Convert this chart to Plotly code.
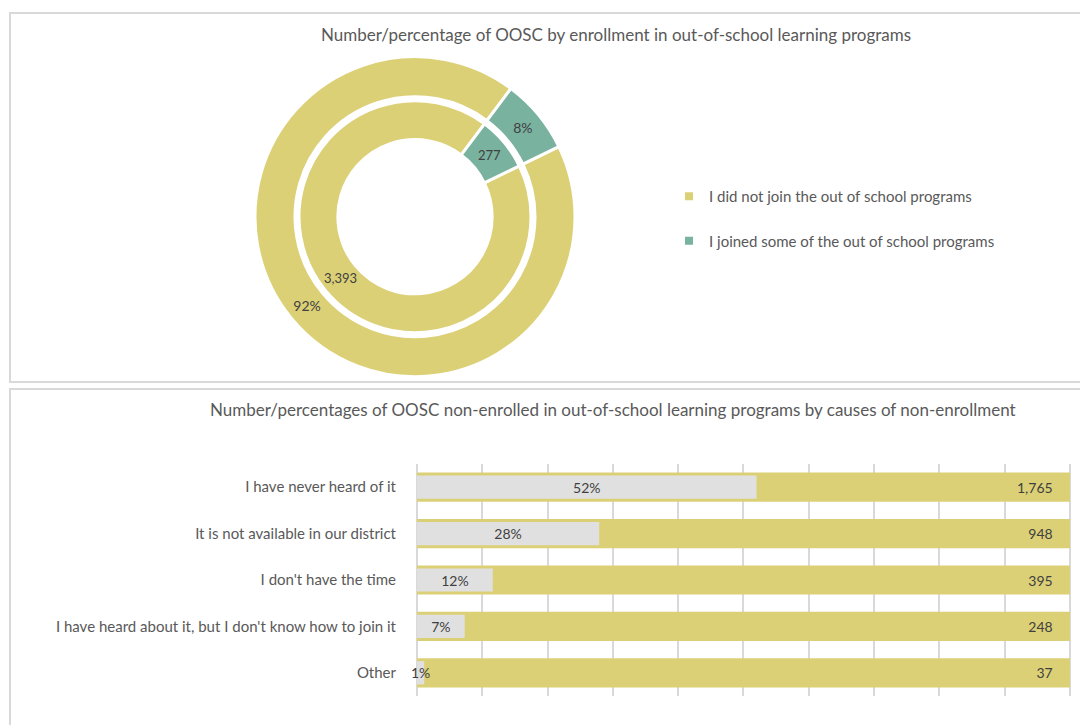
import plotly.graph_objects as go

W, H = 1088, 725
OFF = 8  # page body offset

# ---------------- data ----------------
pie_labels = ["I did not join the out of school programs", "I joined some of the out of school programs"]
pie_counts = [3393, 277]
pie_colors = ["#DCD077", "#7AB2A0"]

causes = ["I have never heard of it",
          "It is not available in our district",
          "I don't have the time",
          "I have heard about it, but I don't know how to join it",
          "Other"]
cause_counts = [1765, 948, 395, 248, 37]
cause_share = [0.520, 0.279, 0.116, 0.073, 0.011]
full_bar = [1, 1, 1, 1, 1]

title_top = "Number/percentage of OOSC by enrollment in out-of-school learning programs"
title_bottom = "Number/percentages of OOSC non-enrolled in out-of-school learning programs by causes of non-enrollment"

FONT = "Lato"
TXT = "#404040"
LBL = "#595959"
GRID = "#D9D9D9"


def px_x(v):
    return (v - OFF) / W


def px_y(v):
    return 1 - (v - OFF) / H


fig = go.Figure()

# outer ring (percent)
fig.add_trace(go.Pie(
    labels=pie_labels, values=pie_counts, sort=False, direction="clockwise", rotation=64,
    hole=0.75, domain=dict(x=[px_x(255), px_x(575)], y=[px_y(376.7), px_y(56.7)]),
    marker=dict(colors=pie_colors, line=dict(color="white", width=3)),
    texttemplate="%{percent:.0%}", textposition="inside", insidetextorientation="horizontal",
    textfont=dict(family=FONT, size=14, color=TXT), showlegend=False, hoverinfo="label+percent",
))
# inner ring (counts)
fig.add_trace(go.Pie(
    labels=pie_labels, values=pie_counts, sort=False, direction="clockwise", rotation=64,
    hole=0.665, domain=dict(x=[px_x(299), px_x(531)], y=[px_y(332.7), px_y(100.7)]),
    marker=dict(colors=pie_colors, line=dict(color="white", width=3)),
    texttemplate="%{value:,}", textposition="inside", insidetextorientation="horizontal",
    textfont=dict(family=FONT, size=13, color=TXT), showlegend=False, hoverinfo="label+value",
))

# legend entries
for i, (lab, col) in enumerate(zip(pie_labels, pie_colors)):
    fig.add_trace(go.Scatter(
        x=[None], y=[None], mode="markers", name=lab, legendgroup=f"g{i}",
        marker=dict(symbol="square", size=8, color=col), xaxis="x2", yaxis="y2",
    ))

# bars
fig.add_trace(go.Bar(
    y=causes, x=full_bar, orientation="h", width=0.63, marker=dict(color="#DCD077", line=dict(width=0)),
    text=[f"{c:,}\u00a0\u00a0\u00a0\u00a0" for c in cause_counts], textposition="inside", insidetextanchor="end",
    textangle=0, constraintext="none", textfont=dict(family=FONT, size=14, color=TXT),
    showlegend=False, hoverinfo="y+text", cliponaxis=False,
))
fig.add_trace(go.Bar(
    y=causes, x=cause_share, orientation="h", width=0.5, marker=dict(color="#E0E0E0", line=dict(width=0)),
    texttemplate="%{x:.0%}", textposition="inside", insidetextanchor="middle",
    textangle=0, constraintext="none", textfont=dict(family=FONT, size=14, color=TXT),
    showlegend=False, hoverinfo="y+x", cliponaxis=False,
))

shapes = [
    dict(type="rect", xref="paper", yref="paper", x0=px_x(10), x1=px_x(1110), y0=px_y(382), y1=px_y(13),
         line=dict(color=GRID, width=2), layer="below"),
    dict(type="rect", xref="paper", yref="paper", x0=px_x(10), x1=px_x(1110), y0=px_y(760), y1=px_y(389),
         line=dict(color=GRID, width=2), layer="below"),
]

annotations = [
    dict(text=title_top, xref="paper", yref="paper", x=px_x(616), y=px_y(34), showarrow=False,
         xanchor="center", yanchor="middle", font=dict(family=FONT, size=17, color=LBL)),
    dict(text=title_bottom, xref="paper", yref="paper", x=px_x(613), y=px_y(409), showarrow=False,
         xanchor="center", yanchor="middle", font=dict(family=FONT, size=17, color=LBL)),
]

fig.update_layout(
    width=W, height=H, margin=dict(l=0, r=0, t=0, b=0, autoexpand=False),
    paper_bgcolor="white", plot_bgcolor="white",
    barmode="overlay",
    shapes=shapes, annotations=annotations,
    legend=dict(x=px_x(669), y=px_y(180), xanchor="left", yanchor="top", tracegroupgap=22,
                font=dict(family=FONT, size=15, color=LBL), bgcolor="rgba(0,0,0,0)"),
    xaxis=dict(domain=[px_x(417), px_x(1076.5)], range=[0, 1.01], tick0=0, dtick=0.1, showgrid=True,
               gridcolor=GRID, gridwidth=1.5, zeroline=True, zerolinecolor=GRID, zerolinewidth=1.5,
               showticklabels=False, showline=False, fixedrange=True, automargin=False),
    yaxis=dict(domain=[px_y(696), px_y(464)], type="category", autorange="reversed", showgrid=False,
               zeroline=False, ticks="", ticklabelstandoff=20, tickfont=dict(family=FONT, size=15, color=LBL),
               showline=False, fixedrange=True, automargin=False),
    xaxis2=dict(domain=[0.6, 0.62], visible=False, fixedrange=True),
    yaxis2=dict(domain=[0.9, 0.92], visible=False, fixedrange=True),
)

fig.write_html("out.html")
